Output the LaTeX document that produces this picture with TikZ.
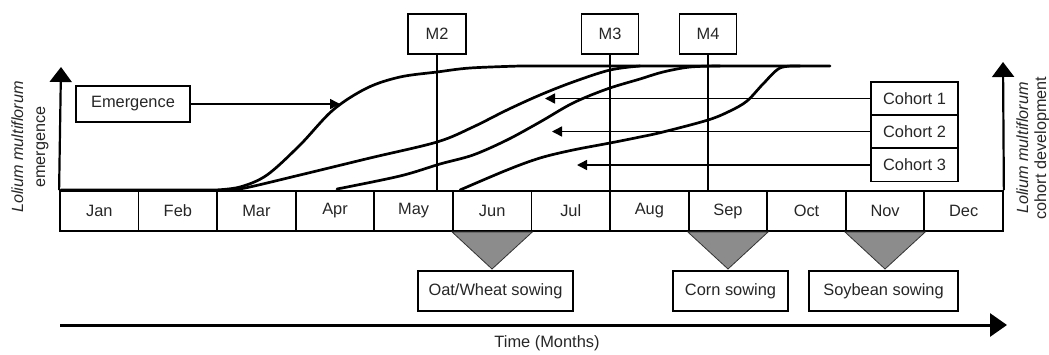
\documentclass[tikz,border=0pt]{standalone}
\usepackage{fontspec}
\setmainfont{Liberation Sans}
\usetikzlibrary{arrows.meta}
\begin{document}
\begin{tikzpicture}[x=1pt,y=-1pt,
  every node/.style={font=\fontsize{16.4}{19}\selectfont, inner sep=0pt, text=black!85},
  box/.style={draw=black, line width=1.8pt, minimum height=40pt, anchor=center},
  month/.style={draw=black, line width=1.8pt, minimum width=78.58pt, minimum height=40pt},
  curve/.style={line width=2.7pt, line cap=round, line join=round},
  thin/.style={line width=1.5pt},
  sow/.style={fill=black!45, draw=black!80, line width=0.8pt},
  axisarrow/.style={line width=2.2pt, -{Triangle[length=15pt,width=22pt]}},
  smallarrow/.style={line width=1.5pt, -{Triangle[length=10pt,width=10pt]}},
]
\useasboundingbox (0,0) rectangle (1049,354);

% month boxes
\foreach \m [count=\i from 0] in {Jan,Feb,Mar,Apr,May,Jun,Jul,Aug,Sep,Oct,Nov,Dec}{
  \node[month] (m\i) at ({60+78.58*(\i+0.5)},211) {\m};
}

% sowing triangles
\path[sow] (m5.south west) -- (m5.south east) -- (492,269) -- cycle;
\path[sow] (m8.south west) -- (m8.south east) -- (728,269) -- cycle;
\path[sow] (m10.south west) -- (m10.south east) -- (885,269) -- cycle;

% sowing boxes
\node[box, minimum width=155pt] (oat) at (495.5,291) {Oat/Wheat sowing};
\node[box, minimum width=115pt] (corn) at (730.5,291) {Corn sowing};
\node[box, minimum width=149pt] (soy) at (883.5,291) {Soybean sowing};

% axes
\coordinate (ltop) at (61,67);
\coordinate (rtop) at (1003,62);
\draw[axisarrow] (m0.north west) -- (ltop);
\draw[axisarrow] (m11.north east) -- (rtop);
\coordinate (tstart) at (60,325);
\coordinate (tend) at (1007,325);
\draw[line width=3pt, -{Triangle[length=17pt,width=23pt]}] (tstart) -- (tend);
\node (time) at (547,343) {Time (Months)};

% axis labels
\node[rotate=90, align=center, font=\fontsize{16.2}{22}\selectfont] (ylab) at (30,147) {\textit{Lolium multiflorum}\\emergence};
\node[rotate=90, align=center, font=\fontsize{16.2}{18}\selectfont] (ylab2) at (1033,148) {\textit{Lolium multiflorum}\\cohort development};

% M boxes and lines
\node[box, minimum width=58pt] (M2) at (437,34) {M2};
\node[box, minimum width=57pt] (M3) at (610,34) {M3};
\node[box, minimum width=57pt] (M4) at (708,34) {M4};
\coordinate (b2) at (437,191);
\coordinate (b3) at (610,191);
\coordinate (b4) at (708,191);
\draw[thin] (M2.south) -- (b2);
\draw[thin] (M3.south) -- (b3);
\draw[thin] (M4.south) -- (b4);

% curves
\draw[curve] (61,190) -- (215,190) plot[smooth, tension=0.55] coordinates {(215,190) (240,187) (267,175) (300,145) (333,110) (367,88) (400,77) (437,72) (470,68) (520,66)} -- (830,66);
\draw[curve] plot[smooth, tension=0.55] coordinates {(225,190) (245,188) (300,175) (370,158) (437,142) (473,127) (507,110) (540,95) (573,82) (610,70) (640,66)};
\draw[curve] plot[smooth, tension=0.55] coordinates {(337,189) (400,176) (440,164) (473,155) (507,140) (540,122) (573,103) (607,89) (640,79) (663,72) (690,67) (720,66)};
\draw[curve] plot[smooth, tension=0.55] coordinates {(460,190) (507,170) (540,158) (573,150) (610,143) (640,137) (663,132) (708,120) (730,111) (747,101) (763,84) (780,68) (800,66)};

% emergence
\node[box, minimum width=114pt, minimum height=36pt] (em) at (133,104) {Emergence};
\coordinate (emt) at (340,104);
\draw[smallarrow] (em.east) -- (emt);

% cohorts
\node[box, minimum width=87pt, minimum height=33pt] (c1) at (914.5,98.5) {Cohort 1};
\node[box, minimum width=87pt, minimum height=33pt] (c2) at (914.5,131.5) {Cohort 2};
\node[box, minimum width=87pt, minimum height=33pt] (c3) at (914.5,165) {Cohort 3};
\coordinate (c1t) at (545,98.5);
\coordinate (c2t) at (552,131.5);
\coordinate (c3t) at (577,165);
\draw[smallarrow] (c1.west) -- (c1t);
\draw[smallarrow] (c2.west) -- (c2t);
\draw[smallarrow] (c3.west) -- (c3t);
\end{tikzpicture}
\end{document}
